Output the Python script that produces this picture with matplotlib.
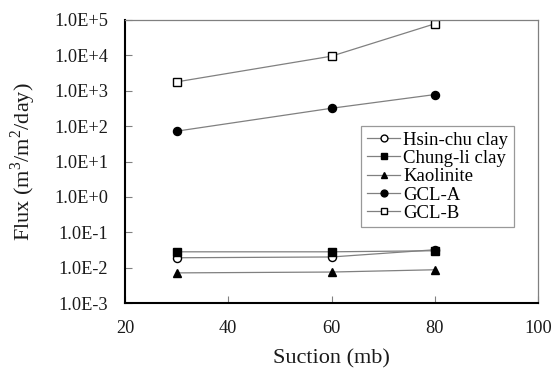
import matplotlib
matplotlib.use("Agg")
import matplotlib.pyplot as plt
from matplotlib.ticker import FixedLocator, FixedFormatter

plt.rcParams['font.family'] = ['Liberation Serif', 'DejaVu Serif']
plt.rcParams['mathtext.fontset'] = 'custom'
plt.rcParams['mathtext.rm'] = 'Liberation Serif'

suction = [30, 60, 80]
hsinchu = [0.019, 0.020, 0.032]
chungli = [0.028, 0.028, 0.030]
kaolinite = [0.0071, 0.0075, 0.0087]
gcl_a = [72, 320, 780]
gcl_b = [1780, 9500, 78000]

y_ticks = [1e-3, 1e-2, 1e-1, 1e0, 1e1, 1e2, 1e3, 1e4, 1e5]
y_labels = ['1.0E-3', '1.0E-2', '1.0E-1', '1.0E+0', '1.0E+1',
            '1.0E+2', '1.0E+3', '1.0E+4', '1.0E+5']

fig = plt.figure(figsize=(5.52, 3.68), dpi=100)
ax = fig.add_axes([125/552, 1-303/368, (538-125)/552, (303-20)/368])

line_kw = dict(color='#808080', lw=0.9, mec='black', ms=5.8)
ax.plot(suction, hsinchu, marker='o', mfc='white', label='Hsin-chu clay', **line_kw)
ax.plot(suction, chungli, marker='s', mfc='black', label='Chung-li clay', **line_kw)
ax.plot(suction, kaolinite, marker='^', mfc='black', label='Kaolinite', **line_kw)
ax.plot(suction, gcl_a, marker='o', mfc='black', label='GCL-A', **line_kw)
ax.plot(suction, gcl_b, marker='s', mfc='white', label='GCL-B', **line_kw)

ax.set_yscale('log')
ax.set_xlim(20, 100)
ax.set_ylim(1e-3, 1e5)
ax.yaxis.set_major_locator(FixedLocator(y_ticks))
ax.yaxis.set_major_formatter(FixedFormatter(y_labels))
ax.yaxis.set_minor_locator(FixedLocator([]))
ax.set_xticks([20, 40, 60, 80, 100])
ax.tick_params(direction='in', labelsize=13.2, length=5, width=0.8,
               color='#808080', labelcolor='#1a1a1a')
ax.tick_params(axis='x', pad=12)
ax.tick_params(axis='y', pad=12)

for s in ['top', 'right']:
    ax.spines[s].set_color('#808080')
    ax.spines[s].set_linewidth(0.9)
for s in ['left', 'bottom']:
    ax.spines[s].set_color('black')
    ax.spines[s].set_linewidth(1.5)

ax.set_xlabel('Suction (mb)', fontsize=16, color='#1a1a1a', labelpad=9)
ax.set_ylabel(r'Flux (m$^3$/m$^2$/day)', fontsize=16, color='#1a1a1a', labelpad=12)

leg = ax.legend(loc='upper left', bbox_to_anchor=((361-125)/413, 1-(126-20)/283),
                fontsize=13.5, frameon=True, fancybox=False, edgecolor='#808080',
                handlelength=1.8, handletextpad=0.15, borderpad=0.3, labelspacing=0.06,
                borderaxespad=0, markerscale=0.85)
leg.get_frame().set_linewidth(0.9)

fig.savefig('out.png', dpi=100)
